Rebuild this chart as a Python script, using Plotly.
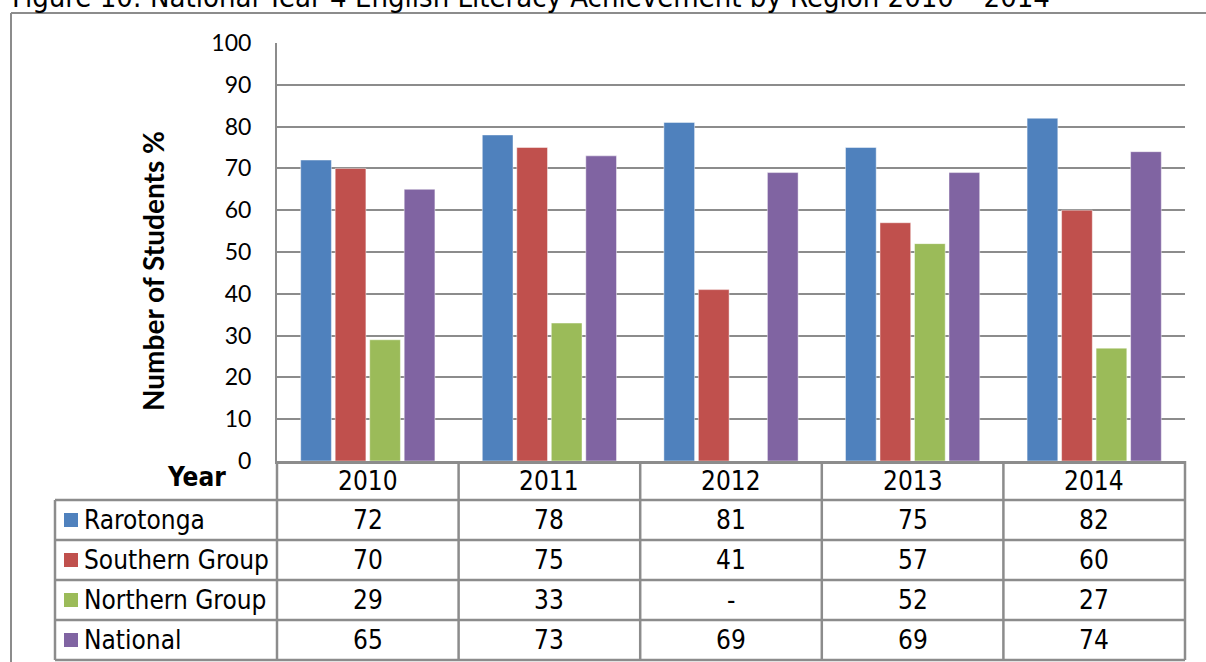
import plotly.graph_objects as go

years = ["2010", "2011", "2012", "2013", "2014"]
series_names = ["Rarotonga", "Southern Group", "Northern Group", "National"]
rarotonga = [72, 78, 81, 75, 82]
southern = [70, 75, 41, 57, 60]
northern = [29, 33, None, 52, 27]
national = [65, 73, 69, 69, 74]
colors = ["#4F81BD", "#C0504D", "#9BBB59", "#8064A2"]
y_ticks = [0, 10, 20, 30, 40, 50, 60, 70, 80, 90, 100]
title_text = "Figure 10: National Year 4 English Literacy Achievement by Region 2010 \u2013 2014"
y_title = "Number of Students %"
corner_label = "Year"

series = [rarotonga, southern, northern, national]

W, H = 1206, 662
L, R, T, B = 277, 1185, 43, 461
GRID = "#8c8c8c"
TFONT = "DejaVu Sans Condensed"
AFONT = "Lato"
TSIZE = 26


def px(x):
    return (x - L) / (R - L)


def py(y):
    return (B - y) / (B - T)


fig = go.Figure()
for name, vals, col in zip(series_names, series, colors):
    fig.add_trace(go.Bar(
        name=name, x=years, y=vals,
        marker=dict(color=col, line=dict(width=1, color="rgba(255,255,255,0.45)")),
        showlegend=False,
    ))

shapes = []
annotations = []

# outer frame
shapes.append(dict(type="line", xref="paper", yref="paper", x0=px(11), x1=px(1215),
                   y0=py(13), y1=py(13), line=dict(color=GRID, width=2)))
shapes.append(dict(type="line", xref="paper", yref="paper", x0=px(11), x1=px(11),
                   y0=py(13), y1=py(670), line=dict(color=GRID, width=2)))

# table geometry
n = len(years)
header_top, header_bot = 461, 500
row_h = 40
rows_bot = header_bot + row_h * len(series_names)
left_x = 55

# horizontal lines
shapes.append(dict(type="line", xref="paper", yref="paper", x0=0, x1=1,
                   y0=py(header_bot), y1=py(header_bot), line=dict(color=GRID, width=2.5)))
for r in range(len(series_names)):
    yb = header_bot + row_h * (r + 1)
    shapes.append(dict(type="line", xref="paper", yref="paper", x0=px(left_x), x1=1,
                       y0=py(yb), y1=py(yb), line=dict(color=GRID, width=2.5)))
shapes.append(dict(type="line", xref="paper", yref="paper", x0=px(left_x), x1=0,
                   y0=py(header_bot), y1=py(header_bot), line=dict(color=GRID, width=2.5)))
# vertical lines
for i in range(n + 1):
    shapes.append(dict(type="line", xref="paper", yref="paper", x0=i / n, x1=i / n,
                       y0=py(header_top), y1=py(rows_bot), line=dict(color=GRID, width=2.5)))
shapes.append(dict(type="line", xref="paper", yref="paper", x0=px(left_x), x1=px(left_x),
                   y0=py(header_bot), y1=py(rows_bot), line=dict(color=GRID, width=2.5)))

# header years
for i, yr in enumerate(years):
    annotations.append(dict(text=yr, xref="paper", yref="paper", x=(i + 0.5) / n,
                            y=py((header_top + header_bot) / 2), showarrow=False,
                            xanchor="center", yanchor="middle",
                            font=dict(family=TFONT, size=TSIZE, color="black")))

# rows
for r, (name, vals, col) in enumerate(zip(series_names, series, colors)):
    yc = header_bot + row_h * r + row_h / 2
    shapes.append(dict(type="rect", xref="paper", yref="paper", x0=px(64), x1=px(78),
                       y0=py(yc - 7), y1=py(yc + 7), fillcolor=col, line=dict(width=0)))
    annotations.append(dict(text=name, xref="paper", yref="paper", x=px(82), y=py(yc),
                            showarrow=False, xanchor="left", yanchor="middle",
                            font=dict(family=TFONT, size=TSIZE, color="black")))
    for i, v in enumerate(vals):
        annotations.append(dict(text=("-" if v is None else str(v)), xref="paper", yref="paper",
                                x=(i + 0.5) / n, y=py(yc), showarrow=False,
                                xanchor="center", yanchor="middle",
                                font=dict(family=TFONT, size=TSIZE, color="black")))

# corner label
annotations.append(dict(text="<b>" + corner_label + "</b>", xref="paper", yref="paper",
                        x=px(228), y=py(477), showarrow=False, xanchor="right", yanchor="middle",
                        font=dict(family=TFONT, size=TSIZE, color="black")))
# y title
annotations.append(dict(text="<b>" + y_title + "</b>", xref="paper", yref="paper",
                        x=px(153), y=py(271), showarrow=False, textangle=-90,
                        xanchor="center", yanchor="middle",
                        font=dict(family=AFONT, size=28, color="black")))
# figure title (clipped at top like the reference)
annotations.append(dict(text=title_text, xref="paper", yref="paper",
                        x=px(10), y=py(16), showarrow=False, xanchor="left", yanchor="bottom",
                        font=dict(family=TFONT, size=29, color="black")))

fig.update_layout(
    width=W, height=H,
    margin=dict(l=L, r=W - R, t=T, b=H - B, pad=0),
    paper_bgcolor="white", plot_bgcolor="white",
    barmode="group", bargap=0.24, bargroupgap=0.11,
    shapes=shapes, annotations=annotations,
    xaxis=dict(showticklabels=False, showgrid=False, showline=True, linecolor=GRID,
               linewidth=2.5, ticks="", range=[-0.5, n - 0.5], fixedrange=True),
    yaxis=dict(range=[0, 100], tickvals=y_ticks, showgrid=True, gridcolor=GRID, gridwidth=2,
               showline=True, linecolor=GRID, linewidth=2, ticks="", zeroline=False,
               ticklabelstandoff=19,
               tickfont=dict(family=AFONT, size=23, color="black"), fixedrange=True),
)

fig.write_html("out.html", config={"displayModeBar": False},
               post_script="document.body.style.margin='0';document.body.style.overflow='hidden';")
